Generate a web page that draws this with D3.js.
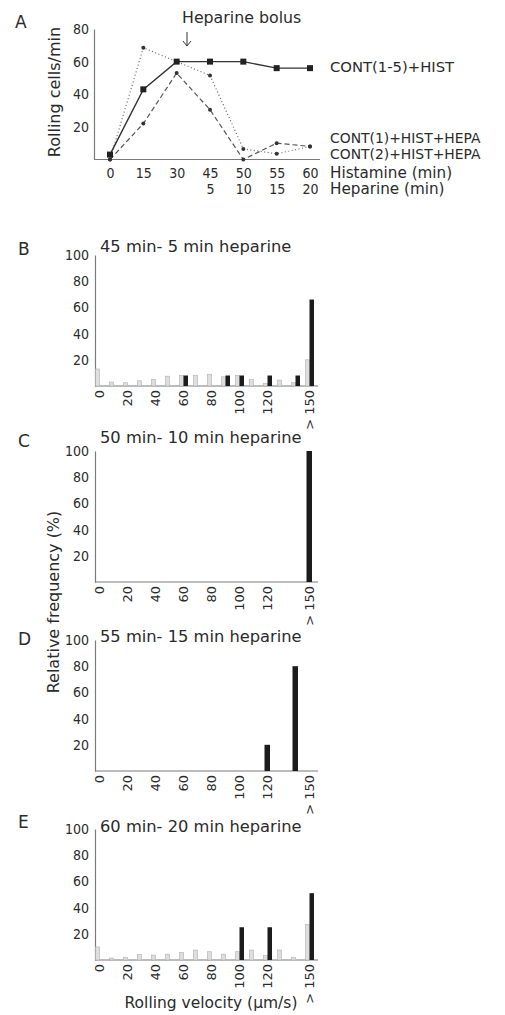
<!DOCTYPE html>
<html><head><meta charset="utf-8">
<script src="https://cdn.jsdelivr.net/npm/d3@7"></script>
<style>
html,body{margin:0;padding:0;background:#fff;}
svg{display:block;}
text{font-family:"DejaVu Sans",sans-serif;fill:#2b2b2b;}
</style>
</head><body>
<svg id="chart" width="505" height="1015"></svg>
<script>
// ---------- Panel A data ----------
const timeCats = ["0","15","30","45","50","55","60"];
const heparinLabels = ["","","","5","10","15","20"];
const contAllHist = [3,43,60,60,60,56,56];        // CONT(1-5)+HIST (solid, squares)
const cont1HistHepa = [0,22,53,30.5,0,10,8];      // CONT(1)+HIST+HEPA (dashed)
const cont2HistHepa = [0,68.5,60,51.5,6.5,3.5,8]; // CONT(2)+HIST+HEPA (dotted)
const rollingTicks = [20,40,60,80];

// ---------- Histogram data ----------
const bins = ["0","10","20","30","40","50","60","70","80","90","100","110","120","130","140","> 150"];
const binTicks = ["0","20","40","60","80","100","120","> 150"];
const freqTicks = [20,40,60,80,100];

const grayB  = [13,3,2.5,4,5,7.5,8,8,9,7,8,5,2,4.5,2.5,20];
const blackB = [0,0,0,0,0,0,8,0,0,8,8,0,8,0,8,66];
const grayC  = [0,0,0,0,0,0,0,0,0,0,0,0,0,0,0,0];
const blackC = [0,0,0,0,0,0,0,0,0,0,0,0,0,0,0,100];
const grayD  = [0,0,0,0,0,0,0,0,0,0,0,0,0,0,0,0];
const blackD = [0,0,0,0,0,0,0,0,0,0,0,0,20,0,80,0];
const grayE  = [10,1.5,2,4.3,3.8,4.5,5.8,7.6,6.3,4.5,6.3,7.6,3.3,7.6,2,27];
const blackE = [0,0,0,0,0,0,0,0,0,0,25,0,25,0,0,51];

const panelLetters = ["B","C","D","E"];
const panelTitles = ["45 min- 5 min heparine","50 min- 10 min heparine","55 min- 15 min heparine","60 min- 20 min heparine"];
const grays = [grayB, grayC, grayD, grayE];
const blacks = [blackB, blackC, blackD, blackE];

// ---------- layout ----------
const svg = d3.select("#chart");
const axisColor = "#7a7a7a";
const textColor = "#2b2b2b";
const condensed = "'DejaVu Sans Condensed','DejaVu Sans',sans-serif";

// ===== Panel A =====
const xA = d3.scalePoint().domain(timeCats).range([110,310]);
const yA = d3.scaleLinear().domain([0,80]).range([159.5,29]);
const gA = svg.append("g");

gA.append("text").attr("x",15).attr("y",28).style("font-size","17px").text("A");

gA.append("line").attr("x1",94).attr("x2",320).attr("y1",yA(0)).attr("y2",yA(0))
  .attr("stroke",axisColor).attr("stroke-width",1.2);
const yAG = gA.append("g").attr("transform","translate(94,0)")
  .call(d3.axisLeft(yA).tickValues(rollingTicks).tickSize(0).tickSizeOuter(0).tickPadding(5));
yAG.select(".domain").attr("stroke",axisColor).attr("stroke-width",1.2);
yAG.selectAll("text").style("font-size","14px").style("font-family",condensed).attr("fill",textColor);

const xAG = gA.append("g").attr("transform","translate(0,160)")
  .call(d3.axisBottom(xA).tickSize(0).tickPadding(0));
xAG.select(".domain").remove();
xAG.selectAll("text").attr("dy",null).attr("y",18).style("font-size","14px").style("font-family",condensed).attr("fill",textColor);
const xAG2 = gA.append("g").attr("transform","translate(0,176)")
  .call(d3.axisBottom(xA).tickSize(0).tickPadding(0).tickFormat((d,i)=>heparinLabels[i]));
xAG2.select(".domain").remove();
xAG2.selectAll("text").attr("dy",null).attr("y",18).style("font-size","14px").style("font-family",condensed).attr("fill",textColor);

gA.append("text").attr("x",330).attr("y",178).style("font-size","15.2px").text("Histamine (min)");
gA.append("text").attr("x",330).attr("y",194).style("font-size","15.2px").text("Heparine (min)");

gA.append("text").attr("transform","translate(60,92) rotate(-90)").attr("text-anchor","middle")
  .style("font-size","16px").text("Rolling cells/min");

const lineA = d3.line().x((d,i)=>xA(timeCats[i])).y(d=>yA(d));
gA.append("path").datum(cont2HistHepa).attr("d",lineA).attr("fill","none")
  .attr("stroke","#666").attr("stroke-width",1.2).attr("stroke-dasharray","1,2.5");
gA.append("path").datum(cont1HistHepa).attr("d",lineA).attr("fill","none")
  .attr("stroke","#555").attr("stroke-width",1.2).attr("stroke-dasharray","5,3");
gA.append("path").datum(contAllHist).attr("d",lineA).attr("fill","none")
  .attr("stroke","#333").attr("stroke-width",1.4);

[cont2HistHepa, cont1HistHepa].forEach(series=>{
  gA.append("g").selectAll("circle").data(series).enter().append("circle")
    .attr("cx",(d,i)=>xA(timeCats[i])).attr("cy",d=>yA(d)).attr("r",2).attr("fill","#333");
});
gA.append("g").selectAll("rect").data(contAllHist).enter().append("rect")
  .attr("x",(d,i)=>xA(timeCats[i])-3).attr("y",d=>yA(d)-3).attr("width",6).attr("height",6).attr("fill","#222");

gA.append("text").attr("x",330).attr("y",72).style("font-size","14.8px").text("CONT(1-5)+HIST");
gA.append("text").attr("x",330).attr("y",143).style("font-size","13.9px").text("CONT(1)+HIST+HEPA");
gA.append("text").attr("x",330).attr("y",159).style("font-size","13.9px").text("CONT(2)+HIST+HEPA");

gA.append("text").attr("x",182).attr("y",23).style("font-size","15.8px").text("Heparine bolus");
gA.append("line").attr("x1",187).attr("x2",187).attr("y1",32).attr("y2",46).attr("stroke","#333").attr("stroke-width",1);
gA.append("path").attr("d","M183,41 L187,46 L191,41").attr("fill","none").attr("stroke","#333").attr("stroke-width",1);

// ===== Histograms =====
const histBase = [386,582,771,960];
const letterY = [255,447,645,828];
const titleY = [252,443,642,832];
const xH = d3.scalePoint().domain(bins).range([100,310]);

panelLetters.forEach((L,p)=>{
  const y0 = histBase[p];
  const yH = d3.scaleLinear().domain([0,100]).range([y0, y0-131]);
  const g = svg.append("g");
  g.append("text").attr("x",18).attr("y",letterY[p]).style("font-size","17px").text(L);
  g.append("text").attr("x",100).attr("y",titleY[p]).style("font-size","16.3px").text(panelTitles[p]);

  const yAx = g.append("g").attr("transform","translate(95,0)")
    .call(d3.axisLeft(yH).tickValues(freqTicks).tickSize(0).tickSizeOuter(0).tickPadding(6));
  yAx.select(".domain").attr("stroke",axisColor).attr("stroke-width",1.2);
  yAx.selectAll("text").style("font-size","14px").style("font-family",condensed).attr("fill",textColor);

  g.append("line").attr("x1",95).attr("x2",318).attr("y1",y0).attr("y2",y0)
    .attr("stroke",axisColor).attr("stroke-width",1.2);

  const xAx = g.append("g").attr("transform",`translate(0,${y0})`)
    .call(d3.axisBottom(xH).tickValues(binTicks).tickSize(0));
  xAx.select(".domain").remove();
  xAx.selectAll("text")
    .attr("transform","rotate(-90)").attr("text-anchor","end")
    .attr("x",-4).attr("y",0).attr("dy","0.3em")
    .style("font-size","13px").attr("fill",textColor);

  const hasGray = d3.max(grays[p]) > 0;
  grays[p].forEach((v,i)=>{
    if (v<=0) return;
    g.append("rect").attr("x",xH(bins[i])-4.5).attr("width",4)
      .attr("y",yH(v)).attr("height",y0-yH(v))
      .attr("fill","#dedede").attr("stroke","#b0b0b0").attr("stroke-width",0.6);
  });
  blacks[p].forEach((v,i)=>{
    if (v<=0) return;
    const bx = hasGray ? xH(bins[i])-0.5 : xH(bins[i])-3.5;
    const bw = hasGray ? 4.5 : 5.5;
    g.append("rect").attr("x",bx).attr("width",bw)
      .attr("y",yH(v)).attr("height",y0-yH(v)).attr("fill","#1c1c1c");
  });
});

svg.append("text").attr("transform","translate(59,602) rotate(-90)").attr("text-anchor","middle")
  .style("font-size","16px").text("Relative frequency (%)");
svg.append("text").attr("x",211).attr("y",1008).attr("text-anchor","middle")
  .style("font-size","15.5px").text("Rolling velocity (µm/s)");
</script>
</body></html>
